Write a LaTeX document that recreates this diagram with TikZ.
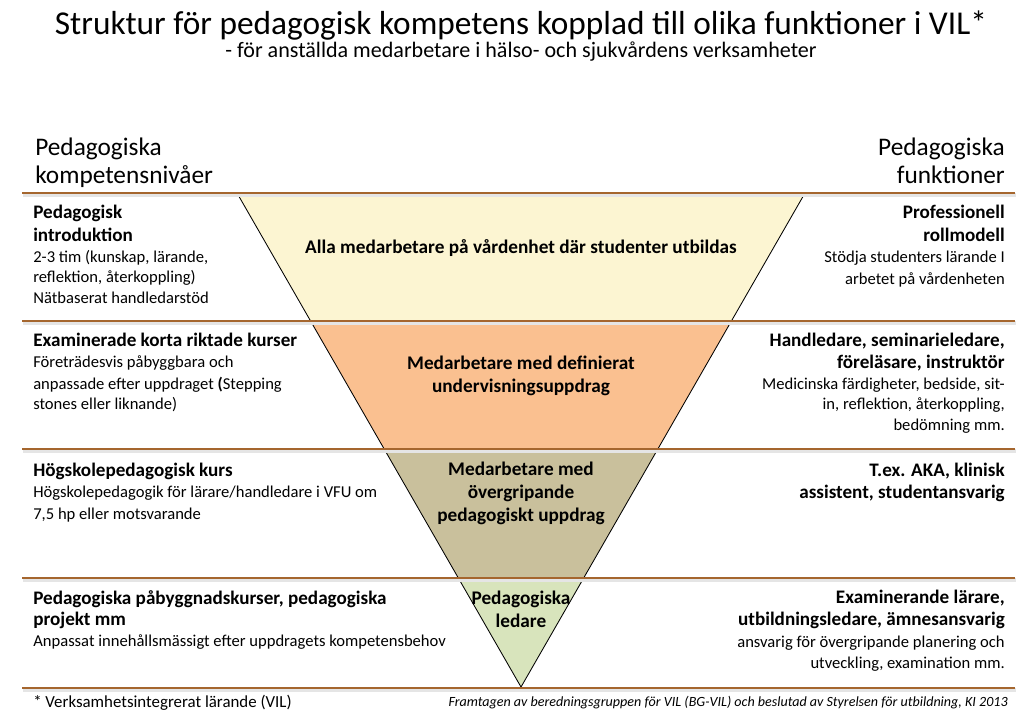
\documentclass[tikz,border=0pt]{standalone}
\usepackage{fontspec}
\setmainfont{Carlito}
\usepackage{tikz}
\usetikzlibrary{calc}
\definecolor{rulebrown}{HTML}{A5662E}
\definecolor{bandyellow}{HTML}{FCF5D2}
\definecolor{bandorange}{HTML}{FAC090}
\definecolor{bandkhaki}{HTML}{C9C09C}
\definecolor{bandgreen}{HTML}{D8E4BC}
\newcommand{\lvlhead}{\fontsize{13.6}{14.6}\selectfont\bfseries}
\newcommand{\lvltext}{\fontsize{11.8}{14.6}\selectfont\mdseries}

\begin{document}
\begin{tikzpicture}[
  x=0.025cm, y=-0.025cm,
  leftblock/.style={anchor=north west, align=left, inner sep=0pt, font=\fontsize{11.8}{14.6}\selectfont},
  rightblock/.style={anchor=north east, align=right, inner sep=0pt, font=\fontsize{11.8}{14.6}\selectfont},
  bandlabel/.style={align=center, inner sep=0pt, font=\bfseries\fontsize{13.7}{16.4}\selectfont},
  bandrule/.style={draw=rulebrown, line width=1.9pt},
  ruleshadow/.style={draw=black!10, line width=2.2pt},
  edgeline/.style={draw=black, line width=0.6pt}
]
\useasboundingbox (0,0) rectangle (1024,715);

% triangle corners and band cuts
\coordinate (tl) at (237,193);
\coordinate (tr) at (805,193);
\coordinate (ap) at (521,687);
\coordinate (l1) at ($(tl)!0.2591!(ap)$);
\coordinate (r1) at ($(tr)!0.2591!(ap)$);
\coordinate (l2) at ($(tl)!0.5182!(ap)$);
\coordinate (r2) at ($(tr)!0.5182!(ap)$);
\coordinate (l3) at ($(tl)!0.7794!(ap)$);
\coordinate (r3) at ($(tr)!0.7794!(ap)$);

\fill[bandyellow] (tl) -- (tr) -- (r1) -- (l1) -- cycle;
\fill[bandorange] (l1) -- (r1) -- (r2) -- (l2) -- cycle;
\fill[bandkhaki] (l2) -- (r2) -- (r3) -- (l3) -- cycle;
\fill[bandgreen] (l3) -- (r3) -- (ap) -- cycle;
\draw[edgeline] (tl) -- (ap) -- (tr);

\foreach \y in {193,321,449,578,688} {
  \draw[ruleshadow] (23,\y+2) -- (1016,\y+2);
  \draw[bandrule] (22,\y) -- (1015,\y);
}

% title
\node[font=\fontsize{23.7}{28}\selectfont] (title) at (521,26)
  {Struktur för pedagogisk kompetens kopplad till olika funktioner i VIL*};
\node[font=\fontsize{15.7}{18}\selectfont] (subtitle) at (521,52)
  {- för anställda medarbetare i hälso- och sjukvårdens verksamheter};

% column heads
\node[leftblock, font=\fontsize{18}{20}\selectfont] (lefthead) at (35,138)
  {Pedagogiska\\kompetensnivåer};
\node[rightblock, font=\fontsize{18}{20}\selectfont] (righthead) at (1005,138)
  {Pedagogiska\\funktioner};

% band labels
\node[bandlabel] (band1) at (521,248) {Alla medarbetare på vårdenhet där studenter utbildas};
\node[bandlabel] (band2) at (521,376) {Medarbetare med definierat\\undervisningsuppdrag};
\node[bandlabel] (band3) at (521,493) {Medarbetare med\\övergripande\\pedagogiskt uppdrag};
\node[bandlabel] (band4) at (521,609) {Pedagogiska\\ledare};

% competence levels
\node[leftblock] (level1) at (33,205)
  {\lvlhead Pedagogisk\\[1.6pt]\lvlhead introduktion\\\lvltext 2-3 tim (kunskap, lärande,\\\lvltext reflektion, återkoppling)\\\lvltext Nätbaserat handledarstöd};
\node[leftblock] (level2) at (33,333)
  {\lvlhead Examinerade korta riktade kurser\\\lvltext Företrädesvis påbyggbara och\\[1.2pt]\lvltext anpassade efter uppdraget {\bfseries(}Stepping\\\lvltext stones eller liknande)};
\node[leftblock] (level3) at (33,463)
  {\lvlhead Högskolepedagogisk kurs\\\lvltext Högskolepedagogik för lärare/handledare i VFU om\\[1.2pt]\lvltext 7,5 hp eller motsvarande};
\node[leftblock] (level4) at (33,590)
  {\lvlhead Pedagogiska påbyggnadskurser, pedagogiska\\[0.6pt]\lvlhead projekt mm\\[0.6pt]\lvltext Anpassat innehållsmässigt efter uppdragets kompetensbehov};

% functions
\node[rightblock] (func1) at (1005,205)
  {\lvlhead Professionell\\[1.6pt]\lvlhead rollmodell\\\lvltext Stödja studenters lärande I\\[1.2pt]\lvltext arbetet på vårdenheten};
\node[rightblock] (func2) at (1005,333)
  {\lvlhead Handledare, seminarieledare,\\[0.6pt]\lvlhead föreläsare, instruktör\\[0.6pt]\lvltext Medicinska färdigheter, bedside, sit-\\\lvltext in, reflektion, återkoppling,\\\lvltext bedömning mm.};
\node[rightblock] (func3) at (1005,463)
  {\lvlhead T.ex. AKA, klinisk\\[1.2pt]\lvlhead assistent, studentansvarig};
\node[rightblock] (func4) at (1005,590)
  {\lvlhead Examinerande lärare,\\[1.2pt]\lvlhead utbildningsledare, ämnesansvarig\\[0.6pt]\lvltext ansvarig för övergripande planering och\\[0.6pt]\lvltext utveckling, examination mm.};

% footer
\node[anchor=west, inner sep=0pt, font=\fontsize{12}{14}\selectfont] (footnote) at (33,703)
  {* Verksamhetsintegrerat lärande (VIL)};
\node[anchor=east, inner sep=0pt, font=\itshape\fontsize{10}{12}\selectfont] (credit) at (1008,703)
  {Framtagen av beredningsgruppen för VIL (BG-VIL) och beslutad av Styrelsen för utbildning, KI 2013};
\end{tikzpicture}
\end{document}
